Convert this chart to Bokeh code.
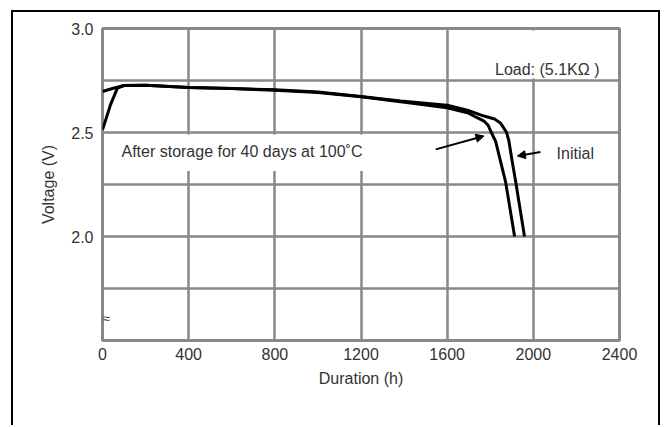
from bokeh.plotting import figure
from bokeh.models import Range1d, FixedTicker, Label, Arrow, NormalHead, PrintfTickFormatter
from bokeh.embed import file_html
from bokeh.resources import INLINE

# ---- data ----
initial_hours = [0, 50, 100, 200, 400, 600, 800, 1000, 1200, 1384, 1600, 1694, 1771, 1820, 1848, 1876, 1887, 1902, 1918, 1959]
initial_volts = [2.697, 2.713, 2.726, 2.727, 2.716, 2.712, 2.705, 2.695, 2.673, 2.651, 2.631, 2.607, 2.579, 2.565, 2.545, 2.500, 2.457, 2.360, 2.264, 2.000]
stored_hours = [0, 37, 69, 100, 200, 400, 600, 800, 1000, 1200, 1384, 1600, 1694, 1771, 1790, 1805, 1825, 1848, 1871, 1913]
stored_volts = [2.513, 2.633, 2.713, 2.726, 2.727, 2.716, 2.711, 2.703, 2.692, 2.672, 2.648, 2.619, 2.595, 2.555, 2.535, 2.500, 2.457, 2.360, 2.264, 2.000]

x_ticks = [0, 400, 800, 1200, 1600, 2000, 2400]
y_label_ticks = [2.0, 2.5, 3.0]
y_grid_ticks = [1.5, 1.75, 2.0, 2.25, 2.5, 2.75, 3.0]

title_load = "Load: (5.1K\u03a9 )"
label_after = "After storage for 40 days at 100\u02daC"
label_initial = "Initial"
break_mark = "\u2248"

FONT = "Liberation Sans"
TXT = "#333333"
GRID = "#888888"

p = figure(width=649, height=415, output_backend="svg", toolbar_location=None,
           x_range=Range1d(0, 2400), y_range=Range1d(1.5, 3.0),
           min_border_left=89, min_border_right=43, min_border_top=16, min_border_bottom=87)
p.styles = {"border-top": "2px solid black", "border-left": "2px solid black",
            "border-right": "2px solid black", "margin-left": "11px", "margin-top": "10px"}
p.background_fill_color = "white"
p.border_fill_color = "white"
p.outline_line_color = GRID
p.outline_line_width = 3

p.xaxis.ticker = FixedTicker(ticks=x_ticks)
p.yaxis.ticker = FixedTicker(ticks=y_label_ticks)
p.yaxis.formatter = PrintfTickFormatter(format="%.1f")
p.xgrid.ticker = FixedTicker(ticks=x_ticks)
p.ygrid.ticker = FixedTicker(ticks=y_grid_ticks)
for g in (p.xgrid, p.ygrid):
    g.grid_line_color = GRID
    g.grid_line_width = 2.5
    g.grid_line_alpha = 1.0

for ax in (p.xaxis, p.yaxis):
    ax.axis_line_color = None
    ax.major_tick_line_color = None
    ax.minor_tick_line_color = None
    ax.major_label_text_font = FONT
    ax.major_label_text_font_size = "16px"
    ax.major_label_text_color = TXT
    ax.axis_label_text_font = FONT
    ax.axis_label_text_font_size = "16px"
    ax.axis_label_text_font_style = "normal"
    ax.axis_label_text_color = TXT
p.xaxis.axis_label = "Duration (h)"
p.yaxis.axis_label = "Voltage (V)"
p.xaxis.major_label_standoff = 1
p.xaxis.axis_label_standoff = 7
p.yaxis.major_label_standoff = 3
p.yaxis.axis_label_standoff = 11

# white masks where the original figure's grid is interrupted behind its texts
mask_left = [25, 1700]
mask_right = [1400, 2350]
mask_bottom = [2.315, 2.76]
mask_top = [2.49, 2.99]
p.quad(left=mask_left, right=mask_right, bottom=mask_bottom, top=mask_top,
       fill_color="white", line_color=None)

p.line(initial_hours, initial_volts, line_color="black", line_width=3, line_join="round")
p.line(stored_hours, stored_volts, line_color="black", line_width=3, line_join="round")

p.add_layout(Label(x=2307, y=2.805, text=title_load, text_align="right", text_baseline="middle",
                   text_font=FONT, text_font_size="16px", text_color=TXT))
p.add_layout(Label(x=88, y=2.411, text=label_after, text_align="left", text_baseline="middle",
                   text_font=FONT, text_font_size="16px", text_color=TXT))
p.add_layout(Label(x=2108, y=2.398, text=label_initial, text_align="left", text_baseline="middle",
                   text_font=FONT, text_font_size="16px", text_color=TXT))
p.add_layout(Label(x=18, y=1.608, text=break_mark, text_align="center", text_baseline="middle",
                   text_font=FONT, text_font_size="13px", text_color=TXT))

p.add_layout(Arrow(x_start=1547, y_start=2.419, x_end=1771, y_end=2.483, line_width=2, line_color="black",
                   end=NormalHead(size=8, fill_color="black", line_color="black", line_width=1)))
p.add_layout(Arrow(x_start=2033, y_start=2.406, x_end=1926, y_end=2.387, line_width=2, line_color="black",
                   end=NormalHead(size=8, fill_color="black", line_color="black", line_width=1)))

open("out.html", "w").write(file_html(p, INLINE))
